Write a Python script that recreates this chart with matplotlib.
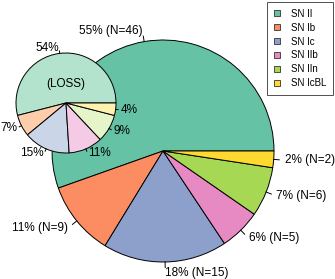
import numpy as np
import matplotlib
matplotlib.use("Agg")
import matplotlib.pyplot as plt
from matplotlib.patches import Patch

plt.rcParams['font.family'] = ['Liberation Sans', 'DejaVu Sans']

types = ["SN II", "SN Ib", "SN Ic", "SN IIb", "SN IIn", "SN IcBL"]
counts = [46, 9, 15, 5, 6, 2]
main_colors = ["#66C2A5", "#FC8D62", "#8DA0CB", "#E78AC3", "#A6D854", "#FFD92F"]
loss_pct = [54, 7, 15, 11, 9, 4]
loss_colors = ["#B3E2CD", "#FDCDAC", "#CBD5E8", "#F4CAE4", "#E6F5C9", "#FFF2AE"]

W, H = 335, 279
fig = plt.figure(figsize=(W / 100, H / 100), dpi=100)
ax = fig.add_axes([0, 0, 1, 1])
ax.set_xlim(0, W)
ax.set_ylim(0, H)
ax.set_aspect('equal')
ax.axis('off')

FS = 8.5


def draw_pie(values, colors, center, radius, labels, z):
    wedges, _ = ax.pie(values, colors=colors, startangle=0, counterclock=True,
                       center=center, radius=radius, frame=True,
                       wedgeprops=dict(edgecolor='black', linewidth=0.7))
    for w in wedges:
        w.set_zorder(z)
    total = float(sum(values))
    cum = 0.0
    for v, lab in zip(values, labels):
        mid = 2 * np.pi * (cum + v / 2) / total
        cum += v
        c, s = np.cos(mid), np.sin(mid)
        x0, y0 = center[0] + radius * c, center[1] + radius * s
        x1, y1 = center[0] + 1.05 * radius * c, center[1] + 1.05 * radius * s
        ax.plot([x0, x1], [y0, y1], color='black', lw=0.7, zorder=z)
        tx, ty = center[0] + 1.1 * radius * c, center[1] + 1.1 * radius * s
        ax.text(tx, ty, lab, ha='left' if c > 0 else 'right', va='center',
                fontsize=FS, zorder=z + 1)


total = sum(counts)
main_labels = [f"{round(100 * n / total)}% (N={n})" for n in counts]
draw_pie(counts, main_colors, (163, H - 151), 111, main_labels, 2)

loss_labels = [f"{p}%" for p in loss_pct]
draw_pie(loss_pct, loss_colors, (66, H - 103), 50, loss_labels, 5)
ax.text(66, H - 84, "(LOSS)", ha='center', va='center', fontsize=FS, zorder=7)

ax.set_xlim(0, W)
ax.set_ylim(0, H)
ax.axis('off')

handles = [Patch(facecolor=c, edgecolor='#333333', linewidth=0.6) for c in main_colors]
leg = ax.legend(handles, types, loc='upper right', bbox_to_anchor=(333 / W, 1 - 2 / H),
                bbox_transform=fig.transFigure, fontsize=7, frameon=True, fancybox=False,
                handlelength=0.6, handleheight=0.6, handletextpad=1.1, labelspacing=0.4,
                borderpad=0.7, borderaxespad=0)
leg.get_frame().set_edgecolor('black')
leg.get_frame().set_linewidth(0.6)
leg.set_zorder(10)

fig.savefig("out.png", dpi=100)
